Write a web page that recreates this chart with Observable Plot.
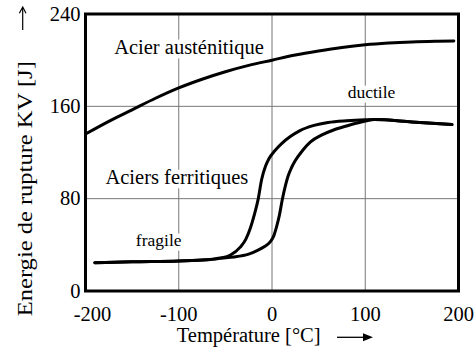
<!DOCTYPE html>
<html>
<head>
<meta charset="utf-8">
<script src="https://cdn.jsdelivr.net/npm/d3@7"></script>
<script src="https://cdn.jsdelivr.net/npm/@observablehq/plot@0.6"></script>
<style>
  html, body { margin: 0; padding: 0; background: #fff; }
  #chart svg { display: block; }
</style>
</head>
<body>
<div id="chart"></div>
<script>
// Austenitic steel
const austT = [-200, -175, -150, -125, -100, -75, -50, -25, 0, 25, 50, 75, 100, 125, 150, 175, 195];
const austE = [136, 147, 157, 167, 176, 183.5, 190, 195.5, 200, 204.5, 208, 211, 213.3, 214.8, 215.8, 216.4, 216.7];

// Ferritic steel, curve A (left)
const ferAT = [-190, -150, -100, -70, -55, -45, -34, -28, -23, -19, -15, -11, -7, -3, 3, 10, 20, 30, 45, 60, 80, 100, 110, 150, 193];
const ferAE = [24.5, 25.3, 26, 27, 28.5, 31, 38, 45, 55, 66, 79, 97, 108, 115, 121.5, 127.5, 134, 139, 143.5, 146, 147.5, 148.3, 148.5, 146.5, 144.2];

// Ferritic steel, curve B (right)
const ferBT = [-190, -150, -100, -70, -55, -41, -25, -16, -8, -2, 2, 5, 8, 11, 14, 17, 21, 25, 33, 41, 53, 66, 80, 91, 100, 110, 150, 193];
const ferBE = [24.5, 25.3, 26, 27, 28.5, 29.5, 32, 35, 38.5, 42.5, 48, 56, 66, 79, 90, 99, 107, 113, 122, 129, 135, 139.5, 143, 145.5, 147.3, 148.5, 146.5, 144.2];

const xTicks = [-200, -100, 0, 100, 200];
const yTicks = [0, 80, 160, 240];
const xGrid = [-100, 0, 100];
const yGrid = [80, 160];

const bigLabels = ["Acier austénitique", "Aciers ferritiques"];
const bigLabelT = [-89, -102];
const bigLabelE = [210.6, 98];
const smallLabels = ["ductile", "fragile"];
const smallLabelT = [106.7, -121.5];
const smallLabelE = [171.7, 43.5];

const series = [
  ...austT.map((t, i) => ({s: "aust", t, e: austE[i]})),
  ...ferAT.map((t, i) => ({s: "ferA", t, e: ferAE[i]})),
  ...ferBT.map((t, i) => ({s: "ferB", t, e: ferBE[i]}))
];
const big = bigLabels.map((text, i) => ({text, t: bigLabelT[i], e: bigLabelE[i]}));
const small = smallLabels.map((text, i) => ({text, t: smallLabelT[i], e: smallLabelE[i]}));

const FONT = "Liberation Serif";

const plot = Plot.plot({
  width: 475,
  height: 353,
  marginLeft: 85,
  marginRight: 17,
  marginTop: 13.5,
  marginBottom: 62.5,
  style: {background: "#fff", color: "#000", fontFamily: FONT},
  x: {domain: [-200, 200]},
  y: {domain: [0, 240]},
  marks: [
    Plot.gridX(xGrid, {stroke: "#777", strokeOpacity: 1, strokeWidth: 1}),
    Plot.gridY(yGrid, {stroke: "#777", strokeOpacity: 1, strokeWidth: 1}),
    Plot.text(big, {x: "t", y: "e", text: "text", fontFamily: FONT, fontSize: 20.5, fill: "#000", stroke: "#fff", strokeWidth: 9}),
    Plot.text(small, {x: "t", y: "e", text: "text", fontFamily: FONT, fontSize: 17.5, fill: "#000", stroke: "#fff", strokeWidth: 9}),
    Plot.line(series, {x: "t", y: "e", z: "s", stroke: "#000", strokeWidth: 3, curve: "monotone-x"}),
    Plot.frame({stroke: "#000", strokeWidth: 3}),
    Plot.axisY(yTicks, {tickSize: 0, tickPadding: 5, fontFamily: FONT, fontSize: 20.5, label: null, tickFormat: d => String(d)}),
    Plot.axisX(xTicks.slice(0, 1), {tickSize: 0, tickPadding: 15, fontFamily: FONT, fontSize: 20.5, label: null, dx: 7, tickFormat: d => String(d)}),
    Plot.axisX(xTicks.slice(1), {tickSize: 0, tickPadding: 15, fontFamily: FONT, fontSize: 20.5, label: null, tickFormat: d => String(d)})
  ]
});

document.getElementById("chart").appendChild(plot);

const svg = d3.select(plot);
// X axis title with arrow
svg.append("text")
  .attr("x", 176.7).attr("y", 341.7)
  .attr("text-anchor", "start")
  .attr("font-family", FONT).attr("font-size", 20.5).attr("fill", "#000")
  .text("Température [°C]");
svg.append("line")
  .attr("x1", 337).attr("x2", 365).attr("y1", 337.3).attr("y2", 337.3)
  .attr("stroke", "#000").attr("stroke-width", 1.3);
svg.append("path")
  .attr("d", "M363,333.3 L373,337.3 L363,341.3 Z")
  .attr("fill", "#000");

// Y axis title with arrow
svg.append("text")
  .attr("transform", "translate(31.7,188.7) rotate(-90)")
  .attr("text-anchor", "middle")
  .attr("font-family", FONT).attr("font-size", 20.5).attr("fill", "#000")
  .attr("textLength", 255).attr("lengthAdjust", "spacingAndGlyphs")
  .text("Energie de rupture KV [J]");
svg.append("line")
  .attr("x1", 22.7).attr("x2", 22.7).attr("y1", 30).attr("y2", 7.5)
  .attr("stroke", "#000").attr("stroke-width", 1.2);
svg.append("path")
  .attr("d", "M19.4,13.3 L22.7,7 L26,13.3")
  .attr("fill", "none").attr("stroke", "#000").attr("stroke-width", 1.2);
</script>
</body>
</html>
